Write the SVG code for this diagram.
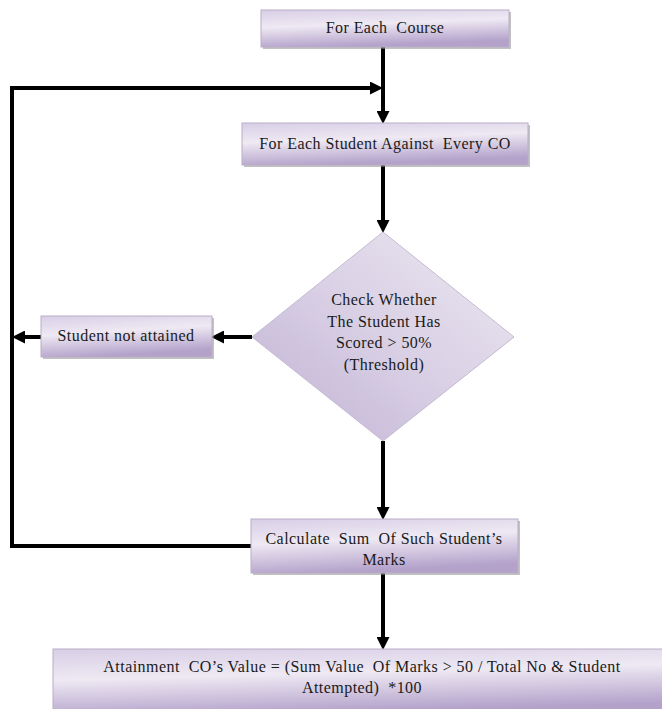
<svg xmlns="http://www.w3.org/2000/svg" width="662" height="709" viewBox="0 0 662 709">
<defs>
<linearGradient id="gBox" x1="0" y1="0" x2="0.25" y2="1">
<stop offset="0" stop-color="#d8cee6"/>
<stop offset="0.45" stop-color="#eee9f3"/>
<stop offset="1" stop-color="#b4a2cb"/>
</linearGradient>
<linearGradient id="gDia" x1="1" y1="0" x2="0" y2="1">
<stop offset="0" stop-color="#ece8f1"/>
<stop offset="0.5" stop-color="#d9d0e5"/>
<stop offset="1" stop-color="#bfb0d3"/>
</linearGradient>
<marker id="arr" markerUnits="userSpaceOnUse" markerWidth="13" markerHeight="13" viewBox="0 0 13 13" refX="6" refY="6.5" orient="auto">
<path d="M0,0 L13,6.5 L0,13 z" fill="#000"/>
</marker>
</defs>
<style>
.box{fill:url(#gBox);stroke:#b8aec6;stroke-width:1}
.sh{fill:#8f8f8f;opacity:0.55}
.dia{fill:url(#gDia);stroke:#c4bad2;stroke-width:1}
.t{font-family:'Liberation Serif','DejaVu Serif',serif;font-size:16px;letter-spacing:0.45px;fill:#1a1a1a;text-anchor:middle;white-space:pre}
.c{fill:none;stroke:#000;stroke-width:4}
</style>
<rect width="662" height="709" fill="#fff"/>
<g id="connectors">
<path class="c" d="M383,47 V117" marker-end="url(#arr)"/>
<path class="c" d="M251,546 H12 V88 H376" marker-end="url(#arr)"/>
<path class="c" d="M383,165 V226" marker-end="url(#arr)"/>
<path class="c" d="M252,337 H218" marker-end="url(#arr)"/>
<path class="c" d="M41,337 H19" marker-end="url(#arr)"/>
<path class="c" d="M383,441 V513" marker-end="url(#arr)"/>
<path class="c" d="M383,573 V643" marker-end="url(#arr)"/>
</g>
<g id="n1">
<rect class="sh" x="263" y="12" width="248" height="37"/>
<rect class="box" x="261" y="10" width="248" height="37"/>
<text class="t" x="385" y="33">For Each  Course</text>
</g>
<g id="n2">
<rect class="sh" x="244" y="125" width="286" height="42"/>
<rect class="box" x="242" y="123" width="286" height="42"/>
<text class="t" x="385" y="149">For Each Student Against  Every CO</text>
</g>
<g id="n3">
<polygon class="dia" points="383,232 514,337 383,441 252,337"/>
<text class="t" x="384" y="305">Check Whether</text>
<text class="t" x="384" y="327">The Student Has</text>
<text class="t" x="384" y="348">Scored &gt; 50%</text>
<text class="t" x="384" y="370">(Threshold)</text>
</g>
<g id="n4">
<rect class="sh" x="43" y="318" width="171" height="41"/>
<rect class="box" x="41" y="316" width="171" height="41"/>
<text class="t" x="126" y="341">Student not attained</text>
</g>
<g id="n5">
<rect class="sh" x="253" y="521" width="267" height="54"/>
<rect class="box" x="251" y="519" width="267" height="54"/>
<text class="t" x="384" y="544">Calculate  Sum  Of Such Student’s</text>
<text class="t" x="384" y="565">Marks</text>
</g>
<g id="n6">
<rect class="box" x="53" y="649" width="615" height="66"/>
<text class="t" x="362" y="672">Attainment  CO’s Value = (Sum Value  Of Marks &gt; 50 / Total No &amp; Student</text>
<text class="t" x="362" y="693">Attempted)  *100</text>
</g>
</svg>
